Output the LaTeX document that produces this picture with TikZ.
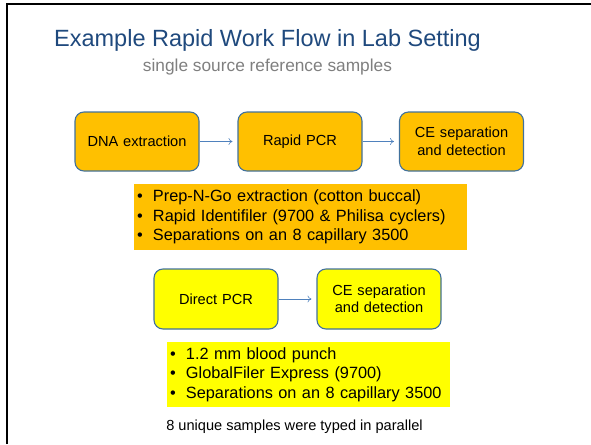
\documentclass[tikz,border=0pt]{standalone}
\usepackage{fontspec}
\setmainfont{Liberation Sans}
\usetikzlibrary{arrows.meta,positioning}
\definecolor{titleblue}{HTML}{1F497D}
\definecolor{subgray}{HTML}{7F7F7F}
\definecolor{amber}{HTML}{FFC000}
\definecolor{brightyellow}{HTML}{FFFF00}
\definecolor{edgeblue}{HTML}{41719C}
\definecolor{arrowblue}{HTML}{4F81BD}
\newcommand{\bulline}[1]{\makebox[16pt][l]{\textbullet}#1}

\begin{document}
\begin{tikzpicture}[x=1pt, y=-1pt,
    stagebox/.style={rectangle, rounded corners=9pt, draw=edgeblue, line width=1.1pt,
      minimum width=124pt, minimum height=59pt, text width=112pt, align=center,
      inner sep=0pt, font=\fontsize{14.6}{17.5}\selectfont},
    notebox/.style={rectangle, inner ysep=0pt, align=left,
      font=\fontsize{16.3}{19.5}\selectfont},
    flow/.style={-{To[length=4pt,width=7pt]}, draw=arrowblue, line width=0.6pt, shorten >=5pt}]
      \useasboundingbox (0,0) rectangle (591,444);
      % slide frame
      \draw[line width=2pt] (7,444) -- (7,4) -- (591,4);

      % heading
      \node[anchor=base, text=titleblue, font=\fontsize{23.5}{28}\selectfont] (title) at (267.5,46) {Example Rapid Work Flow in Lab Setting};
      \node[anchor=base, text=subgray, font=\fontsize{17.3}{20}\selectfont] (subtitle) at (267.5,71) {single source reference samples};

      % rapid workflow
      \node[stagebox, fill=amber] (dnabox) at (137,141.5) {DNA extraction};
      \node[stagebox, fill=amber] (pcrbox) at (300,141.5) {Rapid PCR};
      \node[stagebox, fill=amber] (cebox) at (461.5,141.5) {CE separation\\and detection};
      \draw[flow] (dnabox) -- (pcrbox);
      \draw[flow] (pcrbox) -- (cebox);

      \node[notebox, fill=amber, text width=327pt, inner xsep=3pt, minimum height=66pt] (rapidnotes) at (300.5,217) {%
        \bulline{Prep-N-Go extraction (cotton buccal)}\\
        \bulline{Rapid Identifiler (9700 \& Philisa cyclers)}\\
        \bulline{Separations on an 8 capillary 3500}};

      % direct workflow
      \node[stagebox, fill=brightyellow, minimum height=60pt] (directbox) at (216,299) {Direct PCR};
      \node[stagebox, fill=brightyellow, minimum height=60pt] (cedbox) at (379,299) {CE separation\\and detection};
      \draw[flow] (directbox) -- (cedbox);

      \node[notebox, fill=brightyellow, text width=277pt, inner xsep=3pt, minimum height=65pt] (directnotes) at (308.5,374.5) {%
        \bulline{1.2 mm blood punch}\\
        \bulline{GlobalFiler Express (9700)}\\
        \bulline{Separations on an 8 capillary 3500}};

      \node[anchor=base, font=\fontsize{14.6}{17}\selectfont] (footnote) at (294.5,430) {8 unique samples were typed in parallel};
    \end{tikzpicture}
\end{document}
